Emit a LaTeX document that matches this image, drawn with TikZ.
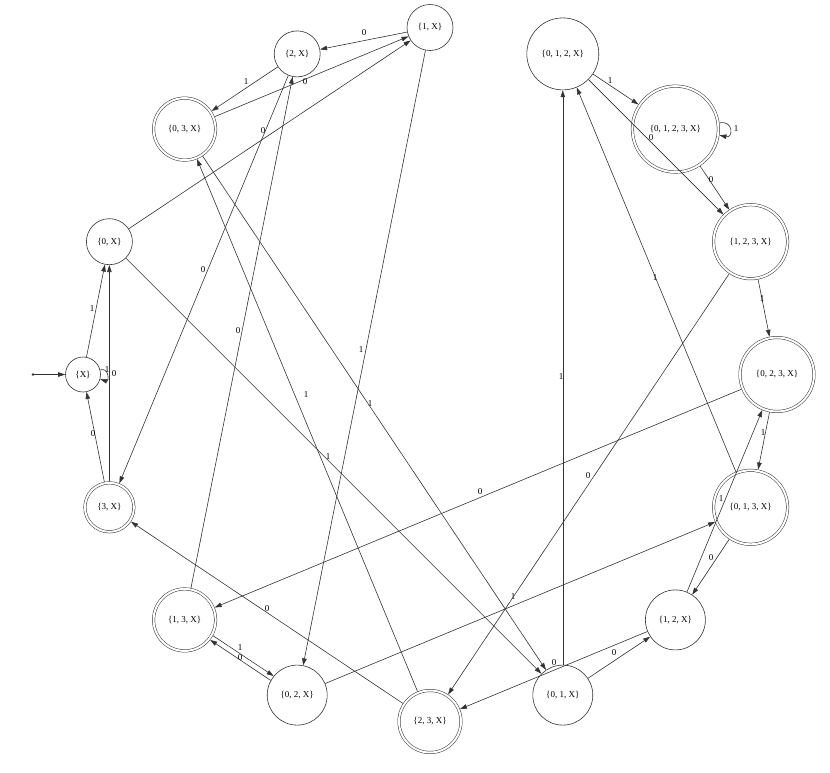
\documentclass[tikz,border=0pt]{standalone}
\usepackage{fontspec}
\setmainfont{Liberation Serif}
\usetikzlibrary{arrows.meta}
\begin{document}
\begin{tikzpicture}[x=1pt,y=-1pt,
  st/.style={circle,draw=black!80,line width=0.6pt,inner sep=0pt,minimum size=#1,font=\fontsize{9}{10}\selectfont},
  ac/.style={circle,draw=black!80,line width=0.5pt,double,double distance=2pt,outer sep=1.5pt,inner sep=0pt,minimum size=#1,font=\fontsize{9}{10}\selectfont},
  arr/.style={draw=black!80,line width=0.6pt,-{Triangle[length=7pt,width=4.5pt]}},
  lbl/.style={font=\fontsize{9}{10}\selectfont,inner sep=0pt}]
\useasboundingbox (0,0) rectangle (830,772);
% states
\node[st=35pt] (X) at (83,374.5) {\{X\}};
\node[st=46pt] (A0) at (109.4,241.7) {\{0, X\}};
\node[ac=62pt] (A03) at (184.6,129.1) {\{0, 3, X\}};
\node[st=46pt] (A2) at (297.2,53.9) {\{2, X\}};
\node[st=46pt] (A1) at (430,27.5) {\{1, X\}};
\node[st=72pt] (A012) at (562.8,53.9) {\{0, 1, 2, X\}};
\node[ac=86pt] (A0123) at (675.4,129.1) {\{0, 1, 2, 3, X\}};
\node[ac=74pt] (A123) at (750.6,241.7) {\{1, 2, 3, X\}};
\node[ac=74pt] (A023) at (777,374.5) {\{0, 2, 3, X\}};
\node[ac=74pt] (A013) at (750.6,507.3) {\{0, 1, 3, X\}};
\node[st=60pt] (A12) at (675.4,619.9) {\{1, 2, X\}};
\node[st=60pt] (A01) at (562.8,695.1) {\{0, 1, X\}};
\node[ac=62pt] (A23) at (430,721.5) {\{2, 3, X\}};
\node[st=60pt] (A02) at (297.2,695.1) {\{0, 2, X\}};
\node[ac=62pt] (A13) at (184.6,619.9) {\{1, 3, X\}};
\node[ac=49pt] (A3) at (109.4,507.3) {\{3, X\}};
% start
\coordinate (s) at (33,374.5);
\fill[black!80] (s) circle (1.3);
\draw[arr] (s) -- (X);
% transitions
\draw[arr] (X.15) .. controls +(9,-3) and +(9,3) .. (X.-15);
\node[lbl] at (114,374) {0};
\draw[arr] (X) -- (A0);   \node[lbl] at (92,309) {1};
\draw[arr] (A3) -- (X);   \node[lbl] at (93,434) {0};
\draw[arr] (A3) -- (A0);  \node[lbl] at (107,370) {1};
\draw[arr] (A0) -- (A1);  \node[lbl] at (263,131) {0};
\draw[arr] (A0) -- (A01); \node[lbl] at (328,457) {1};
\draw[arr] (A1) -- (A2);  \node[lbl] at (364,33) {0};
\draw[arr] (A1) -- (A02); \node[lbl] at (361,350) {1};
\draw[arr] (A2) -- (A3);  \node[lbl] at (203,270) {0};
\draw[arr] (A2) -- (A03); \node[lbl] at (246,82) {1};
\draw[arr] (A03) -- (A1); \node[lbl] at (305,82) {0};
\draw[arr] (A03) -- (A01); \node[lbl] at (370,404) {1};
\draw[arr] (A01) -- (A12); \node[lbl] at (614,653) {0};
\draw[arr] (A01) -- (A012); \node[lbl] at (561,377) {1};
\draw[arr] (A12) -- (A23); \node[lbl] at (554,663) {0};
\draw[arr] (A12) -- (A023); \node[lbl] at (721,499) {1};
\draw[arr] (A23) -- (A3); \node[lbl] at (267,609) {0};
\draw[arr] (A23) -- (A03); \node[lbl] at (306,395) {1};
\draw[arr] (A02.151) -- (A13.-38); \node[lbl] at (240,658) {0};
\draw[arr] (A02) -- (A013); \node[lbl] at (513,597) {1};
\draw[arr] (A13) -- (A2); \node[lbl] at (238,331) {0};
\draw[arr] (A13.-29) -- (A02.141.5); \node[lbl] at (240,648) {1};
\draw[arr] (A012) -- (A123); \node[lbl] at (651,138) {0};
\draw[arr] (A012) -- (A0123); \node[lbl] at (610,81) {1};
\draw[arr] (A0123) -- (A123); \node[lbl] at (711,180) {0};
\draw[arr] (A0123.8) .. controls +(14,-3) and +(14,3) .. (A0123.-8);
\node[lbl] at (736,129) {1};
\draw[arr] (A123) -- (A23); \node[lbl] at (588,476) {0};
\draw[arr] (A123) -- (A023); \node[lbl] at (762,299) {1};
\draw[arr] (A023) -- (A13); \node[lbl] at (480,492) {0};
\draw[arr] (A023) -- (A013); \node[lbl] at (763,433) {1};
\draw[arr] (A013) -- (A12); \node[lbl] at (711,558) {0};
\draw[arr] (A013) -- (A012); \node[lbl] at (655,278) {1};
\end{tikzpicture}
\end{document}
